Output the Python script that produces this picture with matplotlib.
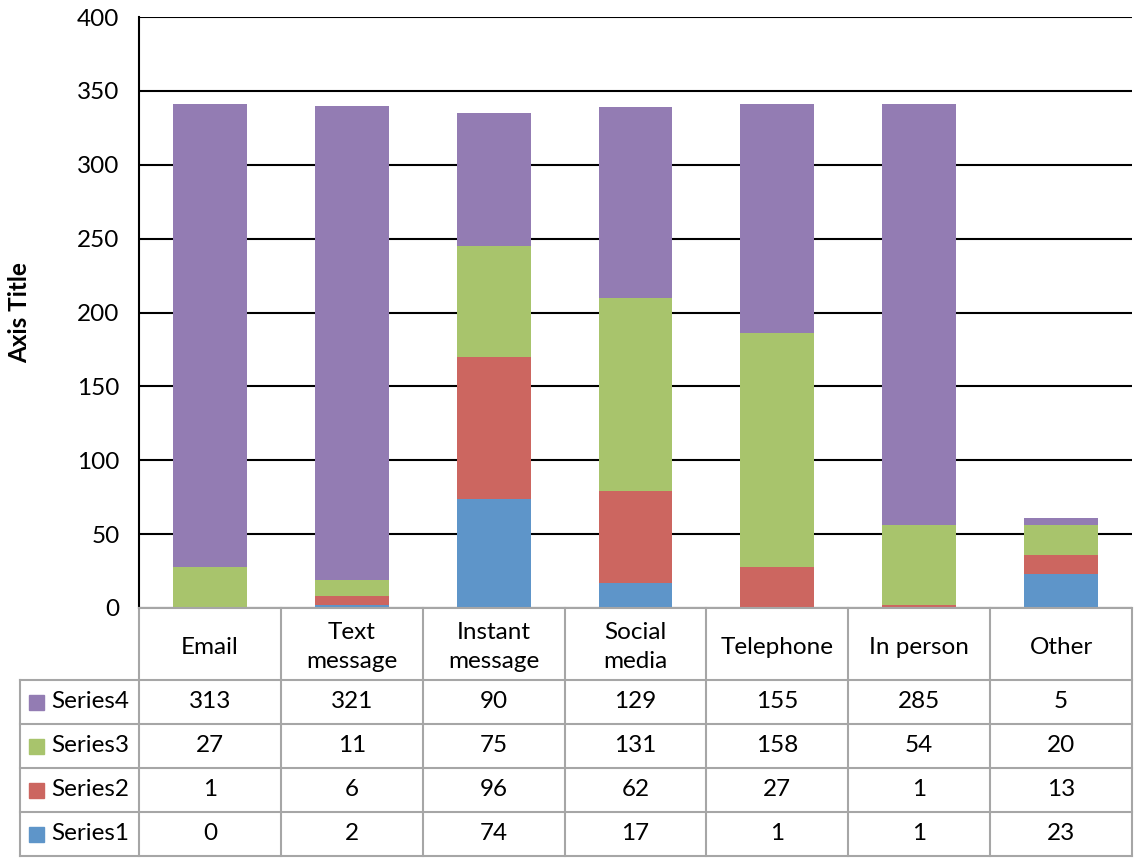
import matplotlib.pyplot as plt
from matplotlib.patches import Rectangle

plt.rcParams['font.family'] = ['Lato', 'DejaVu Sans']

categories = ['Email', 'Text\nmessage', 'Instant\nmessage', 'Social\nmedia',
              'Telephone', 'In person', 'Other']
series_names = ['Series1', 'Series2', 'Series3', 'Series4']
series1 = [0, 2, 74, 17, 1, 1, 23]
series2 = [1, 6, 96, 62, 27, 1, 13]
series3 = [27, 11, 75, 131, 158, 54, 20]
series4 = [313, 321, 90, 129, 155, 285, 5]
yticks = [0, 50, 100, 150, 200, 250, 300, 350, 400]

colors = ['#5E95C9', '#CC6660', '#A8C46C', '#937CB3']
grey = '#A6A6A6'
fs = 17.5

W, H = 1142, 866
fig = plt.figure(figsize=(W / 100, H / 100), dpi=100)

# plot area in pixels
x0, x1 = 139, 1132
y_top, y_zero = 17, 608
ax = fig.add_axes([x0 / W, 1 - y_zero / H, (x1 - x0) / W, (y_zero - y_top) / H])

all_series = [series1, series2, series3, series4]
xs = [i + 0.5 for i in range(len(categories))]
bottom = [0] * len(categories)
for vals, c in zip(all_series, colors):
    ax.bar(xs, vals, width=0.52, bottom=bottom, color=c, zorder=3)
    bottom = [b + v for b, v in zip(bottom, vals)]

ax.set_xlim(0, len(categories))
ax.set_ylim(0, 400)
ax.set_yticks(yticks)
ax.set_xticks([])
ax.tick_params(axis='y', length=0, labelsize=fs, pad=14)
ax.yaxis.grid(True, color='black', linewidth=1.5, zorder=0)
for s in ['top', 'right', 'bottom']:
    ax.spines[s].set_visible(False)
ax.spines['left'].set_linewidth(1.5)
ax.set_ylabel('Axis Title', fontsize=fs, fontweight='bold', labelpad=33)

# data table below the plot
t_left, t_bottom = 20, 856
header_h, row_h = 72, 44
tax = fig.add_axes([t_left / W, 1 - t_bottom / H, (x1 - t_left) / W, (t_bottom - y_zero) / H])
col_w = (x1 - x0) / len(categories)
leg_w = (x0 - t_left) / col_w
tax.set_xlim(-leg_w, len(categories))
tax.set_ylim(header_h + 4 * row_h, 0)
tax.axis('off')

lw = 1.5
ny = header_h + 4 * row_h
# horizontal lines
tax.plot([0, len(categories)], [0, 0], color=grey, lw=lw, clip_on=False)
for k in range(5):
    y = header_h + k * row_h
    tax.plot([-leg_w, len(categories)], [y, y], color=grey, lw=lw, clip_on=False)
# vertical lines
for i in range(len(categories) + 1):
    tax.plot([i, i], [0, ny], color=grey, lw=lw, clip_on=False)
tax.plot([-leg_w, -leg_w], [header_h, ny], color=grey, lw=lw, clip_on=False)

for i, cat in enumerate(categories):
    tax.text(i + 0.5, header_h / 2 + 3, cat, ha='center', va='center', fontsize=fs,
             linespacing=1.45)

rows = list(zip(series_names, all_series, colors))[::-1]
key = 15 / col_w
for r, (name, vals, c) in enumerate(rows):
    yc = header_h + (r + 0.5) * row_h
    tax.add_patch(Rectangle((-leg_w + 9 / col_w, yc - 7.5), key, 15, color=c,
                            clip_on=False))
    tax.text(-leg_w + 31 / col_w, yc, name, ha='left', va='center', fontsize=fs)
    for i, v in enumerate(vals):
        tax.text(i + 0.5, yc, str(v), ha='center', va='center', fontsize=fs)

fig.savefig('out.png', dpi=100)
